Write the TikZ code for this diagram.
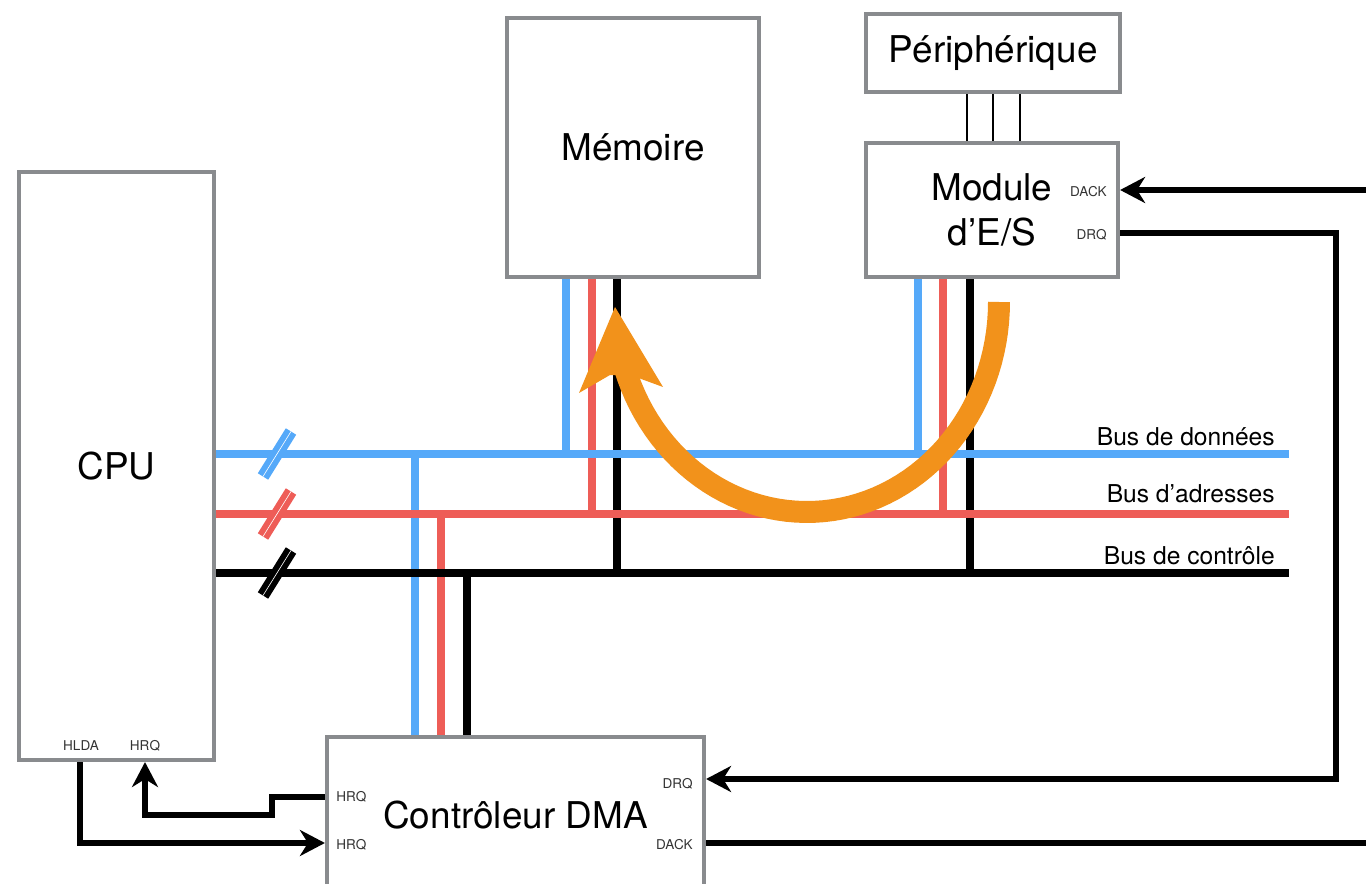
\documentclass[tikz,border=0pt]{standalone}
\usepackage{fontspec}
\setmainfont{TeX Gyre Heros}
\usetikzlibrary{arrows.meta}
\definecolor{busblue}{HTML}{55A9F9}
\definecolor{busred}{HTML}{EE5D57}
\definecolor{boxgray}{HTML}{898B8E}
\definecolor{flow}{HTML}{F2921B}
\begin{document}
\begin{tikzpicture}[x=0.02cm, y=-0.02cm,
  block/.style={draw=boxgray, line width=2.4pt, fill=white, inner sep=0pt, font=\fontsize{21}{26}\selectfont},
  port/.style={font=\fontsize{7.7}{9}\selectfont, text=black!80, inner sep=0pt},
  buslabel/.style={font=\fontsize{14}{16}\selectfont, inner sep=0pt, anchor=base east},
  databus/.style={busblue, line width=4pt},
  addrbus/.style={busred, line width=4pt},
  ctrlbus/.style={black, line width=4pt},
  wire/.style={line width=1.3pt},
  link/.style={line width=3.4pt},
  sig/.style={link, -{Stealth[length=0.5cm, width=0.52cm, inset=0.16cm]}},
  cut/.style={line width=3.3pt, double=white, double distance=0.35pt}
]
  \useasboundingbox (0,0) rectangle (1366,884);
  \clip (0,0) rectangle (1366,884);

  \node[block, minimum width=3.9cm, minimum height=11.76cm] (cpu) at (116.5,466) {CPU};
  \node[block, minimum width=5.04cm, minimum height=5.18cm] (mem) at (633,147.5) {Mémoire};
  \node[block, minimum width=5.08cm, minimum height=1.56cm] (per) at (993,53) {Périphérique};
  \node[block, minimum width=5.04cm, minimum height=2.68cm, align=center] (io) at (992,210) {Module\\d’E/S};
  \node[block, minimum width=7.54cm, minimum height=3.12cm] (dma) at (515.5,815) {Contrôleur DMA};

  \node[port] (hlda) at (81,746) {HLDA};
  \node[port] (hrq) at (145,746) {HRQ};
  \node[port, anchor=east] (iodack) at (1107,192) {DACK};
  \node[port, anchor=east] (iodrq) at (1107,235) {DRQ};
  \node[port, anchor=west] (dhrqout) at (336,797) {HRQ};
  \node[port, anchor=west] (dhrqin) at (336,845) {HRQ};
  \node[port, anchor=east] (ddrq) at (693,784) {DRQ};
  \node[port, anchor=east] (ddack) at (693,845) {DACK};

  \foreach \x in {967,993,1020}
    \draw[wire] (per.south -| \x,0) -- (io.north -| \x,0);

  \coordinate (dend) at (1289,454);
  \coordinate (aend) at (1289,514);
  \coordinate (cend) at (1289,573);

  \draw[databus] (mem.south -| 566,0) -- (566,0 |- dend);
  \draw[databus] (io.south -| 918,0) -- (918,0 |- dend);
  \draw[databus] (dma.north -| 415,0) -- (415,0 |- dend);
  \draw[addrbus] (mem.south -| 592,0) -- (592,0 |- aend);
  \draw[addrbus] (io.south -| 943,0) -- (943,0 |- aend);
  \draw[addrbus] (dma.north -| 441,0) -- (441,0 |- aend);
  \draw[ctrlbus] (mem.south -| 617,0) -- (617,0 |- cend);
  \draw[ctrlbus] (io.south -| 970,0) -- (970,0 |- cend);
  \draw[ctrlbus] (dma.north -| 467,0) -- (467,0 |- cend);

  \node[buslabel] (dlab) at (1275,446) {Bus de données};
  \node[buslabel] (alab) at (1275,503) {Bus d’adresses};
  \node[buslabel] (clab) at (1275,565) {Bus de contrôle};

  \draw[databus] (cpu.east |- dend) -- (dend);
  \draw[addrbus] (cpu.east |- aend) -- (aend);
  \draw[ctrlbus] (cpu.east |- cend) -- (cend);

  \draw[cut, draw=busblue] (263,476.5) -- (291,431.5);
  \draw[cut, draw=busred] (263,536.5) -- (291,491.5);
  \draw[cut, draw=black] (263,595.5) -- (291,550.5);

  \coordinate (dackin) at (1366,190);
  \coordinate (drqtop) at (1336,233);
  \coordinate (drqbot) at (1336,779);
  \coordinate (dackout) at (1366,843);
  \coordinate (hrqstep) at (272,815);

  \draw[sig] (dackin) -- (io.east |- dackin);
  \draw[sig] (io.east |- drqtop) -- (drqtop) -- (drqbot) -- (dma.east |- drqbot);
  \draw[link] (dma.east |- dackout) -- (dackout);
  \draw[sig] (dma.west |- dhrqout) -| (hrqstep) -| (cpu.south -| hrq);
  \draw[sig] (cpu.south -| 80,0) |- (dma.west |- 0,843);

  \draw[flow, line width=12.5pt, line join=round] plot[domain=0:162, samples=60] ({807+192*cos(\x)},{302+210*sin(\x)});
  \fill[flow] (615,307) -- (579,393) -- (610,375) -- (633,376) -- (663,387) -- cycle;
\end{tikzpicture}
\end{document}
